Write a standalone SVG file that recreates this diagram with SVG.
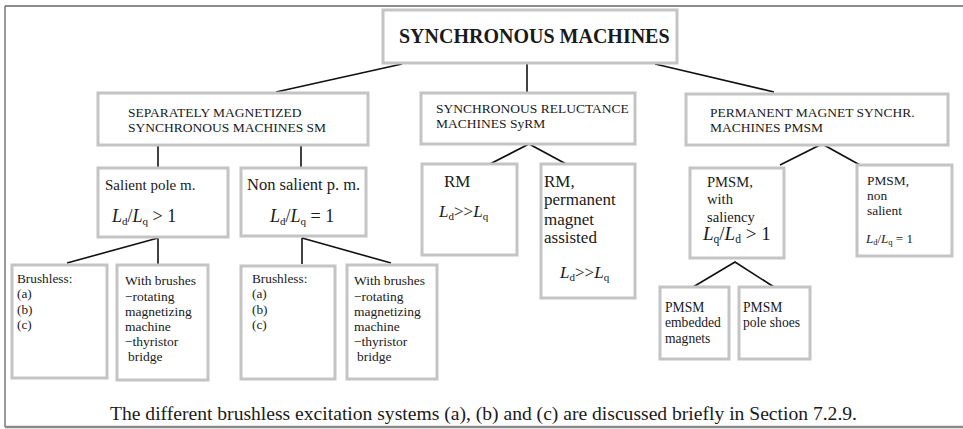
<svg xmlns="http://www.w3.org/2000/svg" width="963" height="429" viewBox="0 0 963 429">
<style>
text{font-family:"Liberation Serif","Times New Roman",serif;fill:#1a1a1a}
.box{fill:#fff;stroke:#c4c4c4;stroke-width:3}
.ln{stroke:#111;stroke-width:1.6;fill:none}
.i{font-style:italic}
</style>
<rect x="0" y="0" width="963" height="429" fill="#fff"/>
<g id="frame">
<line x1="5" y1="6" x2="963" y2="6" stroke="#666" stroke-width="1.6"/>
<line x1="5" y1="6" x2="5" y2="427" stroke="#555" stroke-width="1.2"/>
<line x1="5" y1="427" x2="963" y2="427" stroke="#8a8a8a" stroke-width="2.4"/>
</g>
<g id="connectors">
<line class="ln" x1="402" y1="64" x2="276" y2="92"/>
<line class="ln" x1="527" y1="64" x2="527" y2="92"/>
<line class="ln" x1="655" y1="64" x2="774" y2="92"/>
<line class="ln" x1="158" y1="145" x2="158" y2="168"/>
<line class="ln" x1="301" y1="145" x2="301" y2="168"/>
<line class="ln" x1="158" y1="238" x2="67" y2="263"/>
<line class="ln" x1="158" y1="238" x2="158" y2="264"/>
<line class="ln" x1="302" y1="238" x2="302" y2="264"/>
<line class="ln" x1="302" y1="238" x2="391" y2="263"/>
<polyline class="ln" points="488,165 529,144 568,165"/>
<polyline class="ln" points="780,165 822,144 860,165"/>
<polyline class="ln" points="693,287 735,262 774,287"/>
</g>
<g id="root">
<rect class="box" x="383" y="10" width="294" height="53"/>
<text x="399" y="43" font-size="20" font-weight="bold">SYNCHRONOUS MACHINES</text>
</g>
<g id="sm">
<rect class="box" x="98" y="93" width="270" height="52"/>
<text x="128" y="117" font-size="13.5">SEPARATELY MAGNETIZED</text>
<text x="128" y="132" font-size="13.5">SYNCHRONOUS MACHINES SM</text>
</g>
<g id="syrm">
<rect class="box" x="421" y="93" width="214" height="51"/>
<text x="436" y="113" font-size="13.5">SYNCHRONOUS RELUCTANCE</text>
<text x="436" y="128" font-size="13.5">MACHINES SyRM</text>
</g>
<g id="pmsm">
<rect class="box" x="686" y="94" width="262" height="51"/>
<text x="710" y="117" font-size="13.5">PERMANENT MAGNET SYNCHR.</text>
<text x="710" y="132" font-size="13.5">MACHINES PMSM</text>
</g>
<g id="salient">
<rect class="box" x="98" y="168" width="130" height="69"/>
<text x="105" y="190" font-size="15">Salient pole m.</text>
<text x="112" y="222" font-size="18"><tspan class="i">L</tspan><tspan font-size="11" dy="3">d</tspan><tspan dy="-3">/</tspan><tspan class="i">L</tspan><tspan font-size="11" dy="3">q</tspan><tspan dy="-3"> &gt; 1</tspan></text>
</g>
<g id="nonsalient">
<rect class="box" x="241" y="168" width="125" height="68"/>
<text x="247" y="190" font-size="16.5">Non salient p. m.</text>
<text x="270" y="222" font-size="18"><tspan class="i">L</tspan><tspan font-size="11" dy="3">d</tspan><tspan dy="-3">/</tspan><tspan class="i">L</tspan><tspan font-size="11" dy="3">q</tspan><tspan dy="-3"> = 1</tspan></text>
</g>
<g id="brushless1">
<rect class="box" x="12" y="265" width="95" height="113"/>
<text x="17" y="283" font-size="13.3">Brushless:</text>
<text x="17" y="298" font-size="13.3">(a)</text>
<text x="17" y="314" font-size="13.3">(b)</text>
<text x="17" y="329" font-size="13.3">(c)</text>
</g>
<g id="brushes1">
<rect class="box" x="117" y="265" width="91" height="115"/>
<text x="125" y="285" font-size="13.5">With brushes</text>
<text x="125" y="301" font-size="13.5">−rotating</text>
<text x="125" y="316" font-size="13.5">magnetizing</text>
<text x="125" y="331" font-size="13.5">machine</text>
<text x="125" y="346" font-size="13.5">−thyristor</text>
<text x="128" y="361" font-size="13.5">bridge</text>
</g>
<g id="brushless2">
<rect class="box" x="241" y="266" width="94" height="113"/>
<text x="252" y="283" font-size="13.3">Brushless:</text>
<text x="252" y="298" font-size="13.3">(a)</text>
<text x="252" y="314" font-size="13.3">(b)</text>
<text x="252" y="329" font-size="13.3">(c)</text>
</g>
<g id="brushes2">
<rect class="box" x="347" y="265" width="90" height="114"/>
<text x="354" y="285" font-size="13.5">With brushes</text>
<text x="354" y="301" font-size="13.5">−rotating</text>
<text x="354" y="316" font-size="13.5">magnetizing</text>
<text x="354" y="331" font-size="13.5">machine</text>
<text x="354" y="346" font-size="13.5">−thyristor</text>
<text x="357" y="361" font-size="13.5">bridge</text>
</g>
<g id="rm">
<rect class="box" x="422" y="164" width="95" height="91"/>
<text x="444" y="187" font-size="17">RM</text>
<text x="439" y="217" font-size="17"><tspan class="i">L</tspan><tspan font-size="11" dy="3">d</tspan><tspan dy="-3">&gt;&gt;</tspan><tspan class="i">L</tspan><tspan font-size="11" dy="3">q</tspan></text>
</g>
<g id="rmpm">
<rect class="box" x="541" y="164" width="94" height="134"/>
<text x="544" y="187" font-size="17">RM,</text>
<text x="544" y="205" font-size="17">permanent</text>
<text x="544" y="225" font-size="17">magnet</text>
<text x="544" y="243" font-size="17">assisted</text>
<text x="560" y="278" font-size="17"><tspan class="i">L</tspan><tspan font-size="11" dy="3">d</tspan><tspan dy="-3">&gt;&gt;</tspan><tspan class="i">L</tspan><tspan font-size="11" dy="3">q</tspan></text>
</g>
<g id="pmsmsal">
<rect class="box" x="690" y="168" width="94" height="90"/>
<text x="707" y="187" font-size="14.6">PMSM,</text>
<text x="707" y="204" font-size="14.6">with</text>
<text x="707" y="222" font-size="14.6">saliency</text>
<text x="703" y="240" font-size="19"><tspan class="i">L</tspan><tspan font-size="11.5" dy="3">q</tspan><tspan dy="-3">/</tspan><tspan class="i">L</tspan><tspan font-size="11.5" dy="3">d</tspan><tspan dy="-3"> &gt; 1</tspan></text>
</g>
<g id="pmsmnon">
<rect class="box" x="857" y="165" width="95" height="91"/>
<text x="867" y="185" font-size="13.4">PMSM,</text>
<text x="867" y="200" font-size="13.4">non</text>
<text x="867" y="215" font-size="13.4">salient</text>
<text x="866" y="243" font-size="13"><tspan class="i">L</tspan><tspan font-size="8.5" dy="2">d</tspan><tspan dy="-2">/</tspan><tspan class="i">L</tspan><tspan font-size="8.5" dy="2">q</tspan><tspan dy="-2"> = 1</tspan></text>
</g>
<g id="embedded">
<rect class="box" x="660" y="287" width="69" height="72"/>
<text x="665" y="312" font-size="13.6">PMSM</text>
<text x="665" y="327" font-size="13.6">embedded</text>
<text x="665" y="343" font-size="13.6">magnets</text>
</g>
<g id="poleshoes">
<rect class="box" x="739" y="287" width="71" height="72"/>
<text x="743" y="312" font-size="13.6">PMSM</text>
<text x="743" y="327" font-size="13.6">pole shoes</text>
</g>
<g id="caption">
<text x="110" y="420" font-size="19" textLength="747" lengthAdjust="spacingAndGlyphs">The different brushless excitation systems (a), (b) and (c) are discussed briefly in Section 7.2.9.</text>
</g>
</svg>
